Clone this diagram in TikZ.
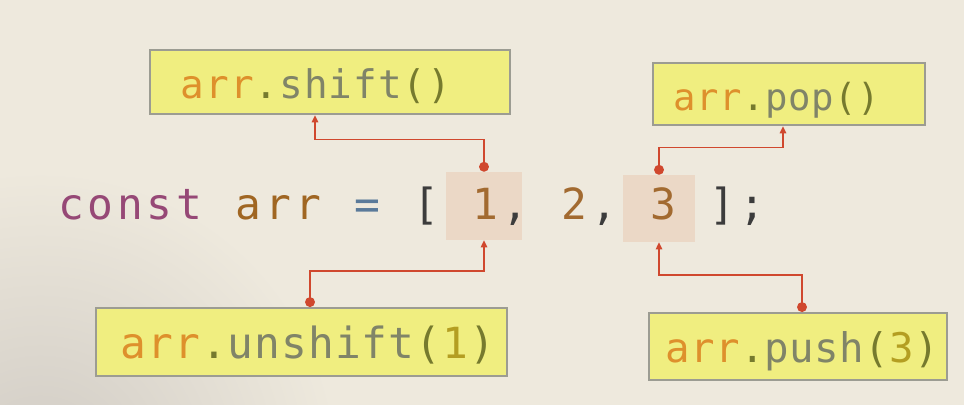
\documentclass[tikz,border=0pt]{standalone}
\usepackage{fontspec}
\usetikzlibrary{arrows.meta,calc}
\newfontfamily\codefont{DejaVu Sans Mono}
\definecolor{pageCream}{RGB}{238,233,221}
\definecolor{pageShadow}{RGB}{208,203,196}
\definecolor{noteYellow}{RGB}{240,238,128}
\definecolor{noteFrame}{RGB}{156,156,146}
\definecolor{markFill}{RGB}{235,216,198}
\definecolor{linkRed}{RGB}{208,72,46}
\definecolor{kwPurple}{RGB}{150,72,118}
\definecolor{varBrown}{RGB}{160,102,34}
\definecolor{opBlue}{RGB}{90,122,154}
\definecolor{numBrown}{RGB}{162,106,48}
\definecolor{punctDark}{RGB}{60,60,60}
\definecolor{varOrange}{RGB}{222,144,44}
\definecolor{methGray}{RGB}{128,132,104}
\definecolor{parenOlive}{RGB}{118,122,46}
\definecolor{argOlive}{RGB}{180,158,34}

%% ── helper: fixed-pitch cells, one character each ───────
\newlength{\cellw}
\makeatletter
\newcommand{\run}[2]{\textcolor{#1}{\@tfor\tk@ch:=#2\do{\makebox[\cellw][c]{\tk@ch}}}}
\makeatother
\newcommand{\gap}{\hspace*{\cellw}}

%% ── helper: one call label, arr.<method>(<arg>) ──────────
\newcommand{\lblcall}[2]{%
  \run{varOrange}{arr}\run{parenOlive}{.}\run{methGray}{#1}%
  \run{parenOlive}{(}\run{argOlive}{#2}\run{parenOlive}{)}}

\begin{document}
\begin{tikzpicture}[
  x=0.025cm, y=-0.025cm,
  notebox/.style={draw=noteFrame, line width=1.6pt, fill=noteYellow,
    anchor=north west, align=left, inner ysep=0pt,
    text height=0.8cm, text depth=0pt},
  markbox/.style={fill=markFill, inner sep=0pt},
  conn/.style={draw=linkRed, line width=1.1pt,
    {Circle[length=7pt]}-{Triangle[length=5pt,width=4.5pt]}},
]

%% ── scale: 1 unit = 1 pixel of the page, y runs down ─────
\def\px{0.025cm}

%% ── page ─────────────────────────────────────────────────
\fill[pageCream] (0,0) rectangle (964,405);
\begin{scope}
  \clip (0,0) rectangle (964,405);
  \shade[inner color=pageShadow, outer color=pageCream] (40,470) circle (300);
\end{scope}

%% ── highlighted array elements ───────────────────────────
\node[markbox, minimum width={76*\px}, minimum height={68*\px}] (one) at (484,206) {};
\node[markbox, minimum width={72*\px}, minimum height={67*\px}] (three) at (659,208.5) {};

%% ── code line ────────────────────────────────────────────
\node[anchor=base west, inner sep=0pt,
      font=\codefont\fontsize{30.5pt}{36pt}\selectfont\setlength{\cellw}{0.74cm}]
  (code) at (56,220)
  {\run{kwPurple}{const}\gap\run{varBrown}{arr}\gap\run{opBlue}{=}\gap
   \run{punctDark}{[}\gap\run{numBrown}{1}\run{punctDark}{,}\gap
   \run{numBrown}{2}\run{punctDark}{,}\gap\run{numBrown}{3}\gap
   \run{punctDark}{];}};

%% ── call labels ──────────────────────────────────────────
\node[notebox, minimum width={360*\px}, minimum height={64*\px},
      inner xsep={30*\px}, text width={300*\px},
      font=\codefont\fontsize{28pt}{32pt}\selectfont\setlength{\cellw}{0.6175cm}]
  (shiftlbl) at (149,49) {\lblcall{shift}{}};
\node[notebox, minimum width={272*\px}, minimum height={62*\px},
      inner xsep={20*\px}, text width={232*\px},
      font=\codefont\fontsize{26.5pt}{30pt}\selectfont\setlength{\cellw}{0.575cm}]
  (poplbl) at (652,62) {\lblcall{pop}{}};
\node[notebox, minimum width={411*\px}, minimum height={68*\px},
      inner xsep={24*\px}, text width={363*\px},
      font=\codefont\fontsize{30.5pt}{34pt}\selectfont\setlength{\cellw}{0.67cm}]
  (unshiftlbl) at (95,307) {\lblcall{unshift}{1}};
\node[notebox, minimum width={298*\px}, minimum height={67*\px},
      inner xsep={16*\px}, text width={266*\px},
      font=\codefont\fontsize{29pt}{32pt}\selectfont\setlength{\cellw}{0.6225cm}]
  (pushlbl) at (648,312) {\lblcall{push}{3}};

%% ── connectors ───────────────────────────────────────────
\draw[conn] (one.north) -- ++(0,-32) -| ($(shiftlbl.south west)+(166,0)$);
\draw[conn] (three.north) -- ++(0,-27) -| ($(poplbl.south west)+(131,0)$);
\draw[conn] ($(unshiftlbl.north west)+(215,0)$) -- ++(0,-36) -| (one.south);
\draw[conn] ($(pushlbl.north west)+(154,0)$) -- ++(0,-37) -| (three.south);

\end{tikzpicture}
\end{document}
